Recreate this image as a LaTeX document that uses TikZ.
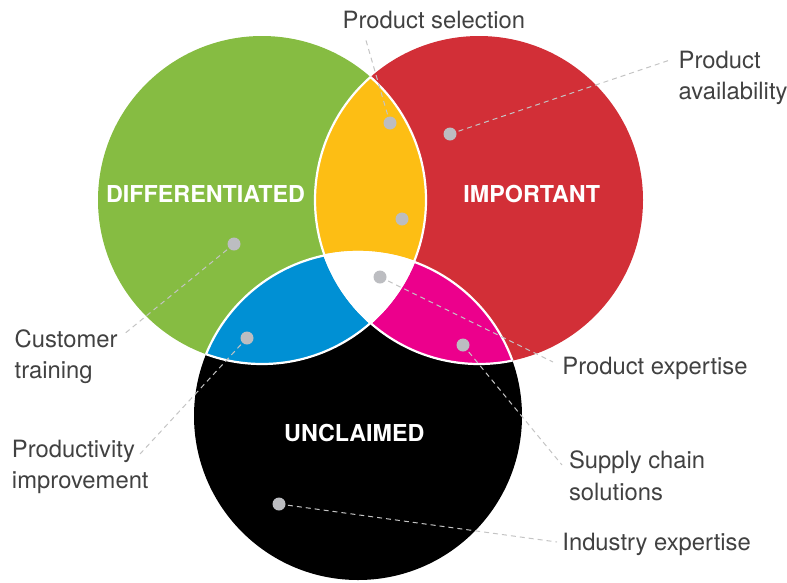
\documentclass[tikz,border=0pt]{standalone}
\usepackage{fontspec}
\setmainfont{TeX Gyre Heros}
\definecolor{cgreen}{HTML}{86BC42}
\definecolor{cred}{HTML}{D22F37}
\definecolor{cyellow}{HTML}{FDBE14}
\definecolor{cblue}{HTML}{0090D4}
\definecolor{cmag}{HTML}{EC008C}
\definecolor{labgray}{HTML}{414141}
\definecolor{dotgray}{HTML}{BCBDC1}
\definecolor{leadgray}{HTML}{C4C4C4}
\begin{document}
\begin{tikzpicture}[x=1pt,y=-1pt,
  lab/.style={text=labgray, font=\fontsize{23.8}{28}\selectfont, anchor=base west, inner sep=0pt},
  ttl/.style={text=white, font=\bfseries\fontsize{23.3}{27}\selectfont, anchor=base, inner sep=0pt},
  dot/.style={circle, fill=dotgray, minimum size=13pt, inner sep=0pt},
  leader/.style={draw=leadgray, line width=1pt, dash pattern=on 5pt off 4pt},
  edge/.style={draw=white, line width=2.2pt}]
\useasboundingbox (0,0) rectangle (787,582);
\def\R{164pt}
\coordinate (gc) at (262,200);
\coordinate (rc) at (479,200);
\coordinate (bc) at (358,416);
% base circles
\fill[cgreen] (gc) circle[radius=\R];
\fill[cred] (rc) circle[radius=\R];
\fill[black] (bc) circle[radius=\R];
% pairwise intersections
\begin{scope}
  \clip (gc) circle[radius=\R];
  \fill[cyellow] (rc) circle[radius=\R];
  \fill[cblue] (bc) circle[radius=\R];
\end{scope}
\begin{scope}
  \clip (rc) circle[radius=\R];
  \fill[cmag] (bc) circle[radius=\R];
  \clip (gc) circle[radius=\R];
  \fill[white] (bc) circle[radius=\R];
\end{scope}
% white boundary arcs (each circle inside the others)
\begin{scope}
  \clip (gc) circle[radius=\R];
  \draw[edge] (rc) circle[radius=\R];
  \draw[edge] (bc) circle[radius=\R];
\end{scope}
\begin{scope}
  \clip (rc) circle[radius=\R];
  \draw[edge] (gc) circle[radius=\R];
  \draw[edge] (bc) circle[radius=\R];
\end{scope}
\begin{scope}
  \clip (bc) circle[radius=\R];
  \draw[edge] (gc) circle[radius=\R];
  \draw[edge] (rc) circle[radius=\R];
\end{scope}
% titles
\node[ttl] (tdiff) at (205.5,202.7) {DIFFERENTIATED};
\node[ttl] (timp) at (531.7,202.7) {IMPORTANT};
\node[ttl] (tunc) at (354.3,441.7) {UNCLAIMED};
% labels
\node[lab] (sel) at (342.5,28) {Product selection};
\node[lab] (availA) at (678.5,68.3) {Product};
\node[lab] (availB) at (678.5,99) {availability};
\node[lab] (custA) at (14.5,347.7) {Customer};
\node[lab] (custB) at (14.5,378.3) {training};
\node[lab] (prodA) at (11.8,457) {Productivity};
\node[lab] (prodB) at (11.8,488.3) {improvement};
\node[lab] (expert) at (562.2,374.3) {Product expertise};
\node[lab] (supA) at (568.8,468.3) {Supply chain};
\node[lab] (supB) at (568.8,500) {solutions};
\node[lab] (ind) at (562.2,550) {Industry expertise};
% leader end points
\coordinate (selEnd) at (365,37);
\coordinate (availEnd) at (670,60);
\coordinate (custEnd) at (123,335);
\coordinate (prodEnd) at (140,454);
\coordinate (expEnd) at (553,362);
\coordinate (supEnd) at (562,465);
\coordinate (indEnd) at (557,542);
% dot positions
\coordinate (pSel) at (390,123);
\coordinate (pYel) at (402,219);
\coordinate (pAvail) at (450,134);
\coordinate (pDiff) at (234,244);
\coordinate (pBlue) at (247,338);
\coordinate (pCenter) at (380,277);
\coordinate (pMag) at (463,345);
\coordinate (pBlack) at (279,504);
% leaders
\draw[leader] (pSel) -- (selEnd);
\draw[leader] (pAvail) -- (availEnd);
\draw[leader] (pDiff) -- (custEnd);
\draw[leader] (pBlue) -- (prodEnd);
\draw[leader] (pCenter) -- (expEnd);
\draw[leader] (pMag) -- (supEnd);
\draw[leader] (pBlack) -- (indEnd);
% dots
\node[dot] (dSel) at (pSel) {};
\node[dot] (dYel) at (pYel) {};
\node[dot] (dAvail) at (pAvail) {};
\node[dot] (dDiff) at (pDiff) {};
\node[dot] (dBlue) at (pBlue) {};
\node[dot] (dCenter) at (pCenter) {};
\node[dot] (dMag) at (pMag) {};
\node[dot] (dBlack) at (pBlack) {};
\end{tikzpicture}
\end{document}
